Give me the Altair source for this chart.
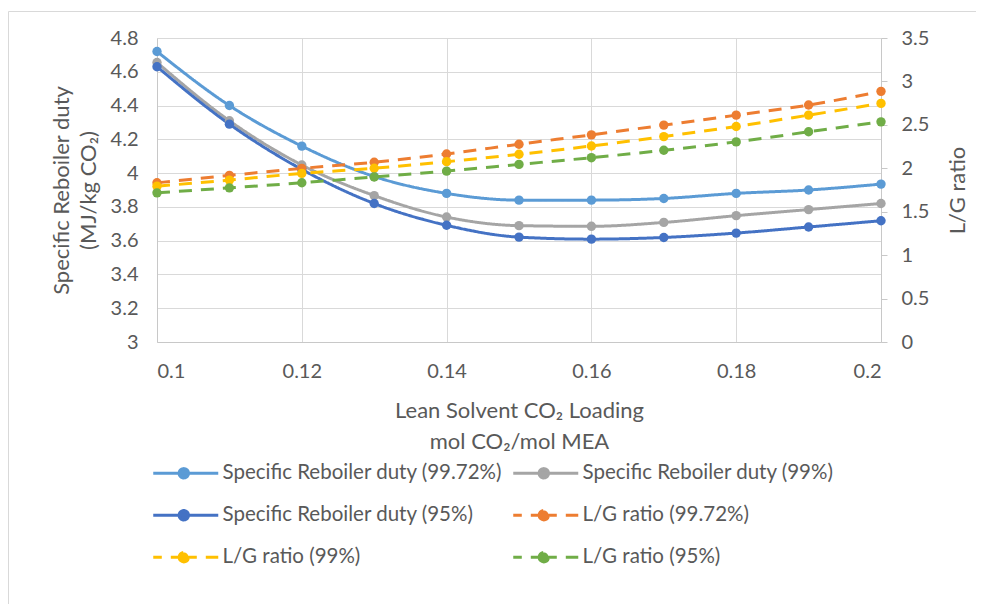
import altair as alt
import pandas as pd

# ---- data ----
X = [0.10, 0.11, 0.12, 0.13, 0.14, 0.15, 0.16, 0.17, 0.18, 0.19, 0.20]
SRD_9972 = [4.72, 4.40, 4.16, 3.98, 3.88, 3.84, 3.84, 3.85, 3.88, 3.90, 3.935]
SRD_99 = [4.655, 4.31, 4.048, 3.867, 3.74, 3.689, 3.685, 3.708, 3.748, 3.784, 3.82]
SRD_95 = [4.63, 4.29, 4.022, 3.82, 3.691, 3.621, 3.609, 3.619, 3.645, 3.681, 3.718]
LG_9972 = [1.833, 1.918, 1.999, 2.07, 2.165, 2.277, 2.385, 2.497, 2.612, 2.728, 2.886]
LG_99 = [1.794, 1.864, 1.941, 2.0, 2.076, 2.161, 2.257, 2.365, 2.481, 2.612, 2.747]
LG_95 = [1.717, 1.775, 1.833, 1.9, 1.968, 2.045, 2.122, 2.207, 2.304, 2.42, 2.535]

SERIES = [
    "Specific Reboiler duty (99.72%)",
    "Specific Reboiler duty (99%)",
    "Specific Reboiler duty (95%)",
    "L/G ratio (99.72%)",
    "L/G ratio (99%)",
    "L/G ratio (95%)",
]
COLORS = ["#5B9BD5", "#A5A5A5", "#4472C4", "#ED7D31", "#FFC000", "#70AD47"]
DASHES = [[1, 0], [1, 0], [1, 0], [13, 9], [13, 9], [13, 9]]

X_TICKS = [0.1, 0.12, 0.14, 0.16, 0.18, 0.2]
LEFT_TICKS = [3, 3.2, 3.4, 3.6, 3.8, 4, 4.2, 4.4, 4.6, 4.8]
RIGHT_TICKS = [0, 0.5, 1, 1.5, 2, 2.5, 3, 3.5]


def long(values_list, names):
    rows = []
    for vals, name in zip(values_list, names):
        for x, v in zip(X, vals):
            rows.append({"x": x, "value": v, "series": name})
    return pd.DataFrame(rows)


df_srd = long([SRD_9972, SRD_99, SRD_95], SERIES[:3])
df_lg = long([LG_9972, LG_99, LG_95], SERIES[3:])

TXT = "#595959"
GRID = "#D9D9D9"
AXLINE = "#C8C8C8"
TICK_FS = 20
TITLE_FS = 22

# legend glyph: line drawn outward from the centre (so dashes restart there) + dot
SYMBOL = ("M3.7,0L9,0M3.7,0L-1,0"
          "M2.98,0A0.72,0.72 0 1 0 4.42,0A0.72,0.72 0 1 0 2.98,0Z")

legend = alt.Legend(
    title=None, orient="none", legendX=-7.5, legendY=425, columns=2,
    direction="horizontal",
    symbolType=SYMBOL, symbolSize=169, symbolStrokeWidth=3, symbolOpacity=1,
    labelOffset=52.5, labelFontSize=20.5, labelColor=TXT, labelLimit=0,
    rowPadding=20, columnPadding=4, padding=0,
)

color = alt.Color("series:N", scale=alt.Scale(domain=SERIES, range=COLORS), legend=legend)
dash = alt.StrokeDash("series:N", scale=alt.Scale(domain=SERIES, range=DASHES), legend=legend)

x_enc = alt.X(
    "x:Q",
    scale=alt.Scale(domain=[0.1, 0.2], nice=False, zero=False),
    axis=alt.Axis(
        values=X_TICKS, format="~g", grid=True, gridColor=GRID, ticks=False,
        domainColor=AXLINE, labelPadding=19, labelFontSize=TICK_FS, labelColor=TXT,
        title=["Lean Solvent CO₂ Loading", "mol CO₂/mol MEA"],
        titleFontSize=TITLE_FS, titleColor=TXT, titleFontWeight="normal",
        titlePadding=19, titleLineHeight=31,
    ),
)

y_left = alt.Y(
    "value:Q",
    scale=alt.Scale(domain=[3, 4.8], nice=False, zero=False),
    axis=alt.Axis(
        orient="left", values=LEFT_TICKS, format="~g", grid=True, gridColor=GRID,
        ticks=False, domainColor=AXLINE, labelPadding=19, labelFontSize=TICK_FS,
        labelColor=TXT, title=["Specific Reboiler duty", "(MJ/kg CO₂)"],
        titleFontSize=TITLE_FS, titleColor=TXT, titleFontWeight="normal",
        titlePadding=10, titleLineHeight=27,
    ),
)

y_right = alt.Y(
    "value:Q",
    scale=alt.Scale(domain=[0, 3.5], nice=False, zero=False),
    axis=alt.Axis(
        orient="right", values=RIGHT_TICKS, format="~g", grid=False,
        ticks=True, tickSize=6, tickColor=AXLINE, domainColor=AXLINE,
        labelPadding=14, labelFontSize=TICK_FS, labelColor=TXT, title="L/G ratio",
        titleAngle=270, titleFontSize=TITLE_FS, titleColor=TXT, titleFontWeight="normal",
        titlePadding=41,
    ),
)

frame_df = pd.DataFrame({"a": [0]})
frame_left = alt.Chart(frame_df).mark_rule(stroke="#D9D9D9", strokeWidth=1).encode(
    x=alt.value(-148.5), y=alt.value(-26.5), y2=alt.value(2000)
)
frame_top = alt.Chart(frame_df).mark_rule(stroke="#D9D9D9", strokeWidth=1).encode(
    x=alt.value(-148.5), x2=alt.value(2000), y=alt.value(-26.5)
)

srd_line = alt.Chart(df_srd).mark_line(strokeWidth=3, interpolate="monotone").encode(
    x=x_enc, y=y_left, color=color, strokeDash=dash
)
srd_pts = alt.Chart(df_srd).mark_point(filled=True, size=88, opacity=1).encode(
    x=x_enc, y=y_left, color=color
)
lg_line = alt.Chart(df_lg).mark_line(strokeWidth=3, interpolate="monotone").encode(
    x=x_enc, y=y_right, color=color, strokeDash=dash
)
lg_pts = alt.Chart(df_lg).mark_point(filled=True, size=88, opacity=1).encode(
    x=x_enc, y=y_right, color=color
)

left = alt.layer(frame_left, frame_top, srd_line, srd_pts)
right = alt.layer(lg_line, lg_pts)

chart = alt.layer(left, right).resolve_scale(y="independent").properties(
    width=724, height=304,
    padding={"left": 149, "top": 30, "right": 95, "bottom": 262},
    autosize=alt.AutoSizeParams(type="none"),
).configure(font="Lato", background="white").configure_view(stroke=None)

chart.save("out.html", embed_options={"renderer": "svg", "actions": False})
